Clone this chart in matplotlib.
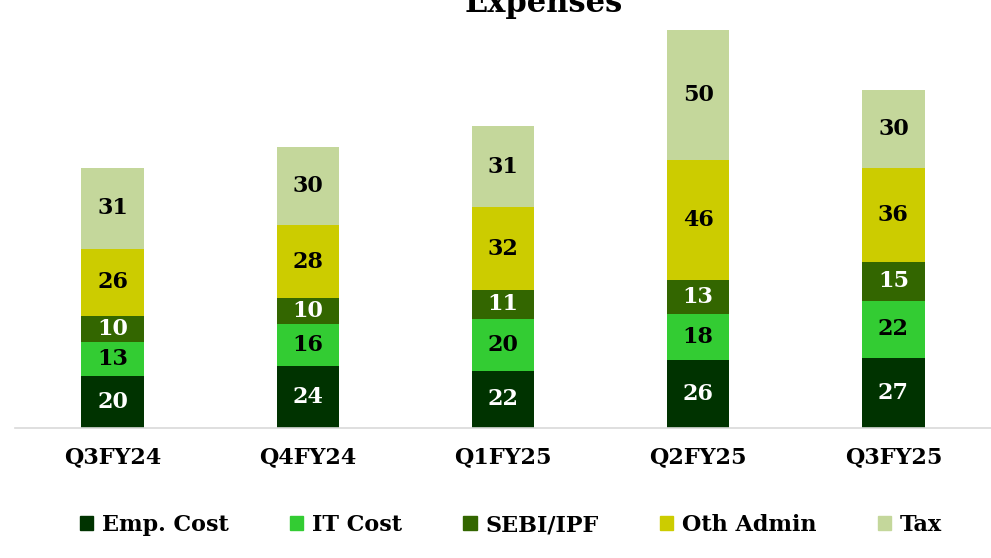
import matplotlib
matplotlib.use("Agg")
import matplotlib.pyplot as plt
from matplotlib.patches import Patch

quarters = ["Q3FY24", "Q4FY24", "Q1FY25", "Q2FY25", "Q3FY25"]
emp_cost = [20, 24, 22, 26, 27]
it_cost = [13, 16, 20, 18, 22]
sebi_ipf = [10, 10, 11, 13, 15]
oth_admin = [26, 28, 32, 46, 36]
tax = [31, 30, 31, 50, 30]

series = [
    ("Emp. Cost", emp_cost, "#003300", "white"),
    ("IT Cost", it_cost, "#33CC33", "black"),
    ("SEBI/IPF", sebi_ipf, "#336600", "white"),
    ("Oth Admin", oth_admin, "#CCCC00", "black"),
    ("Tax", tax, "#C4D79B", "black"),
]

plt.rcParams['font.family'] = ['DejaVu Serif']
plt.rcParams['font.weight'] = 'bold'

W, H = 991, 558
fig = plt.figure(figsize=(W / 100, H / 100), dpi=100)
# baseline at 428 px from top, 2.6 px per unit
ax = fig.add_axes([15 / W, (H - 428) / H, 976 / W, 160 * 2.6 / H])

x = list(range(len(quarters)))
bottom = [0] * len(quarters)
for name, vals, col, tcol in series:
    ax.bar(x, vals, 0.32, bottom=bottom, color=col, label=name)
    for i, v in enumerate(vals):
        ax.text(x[i], bottom[i] + v / 2, str(v), ha='center', va='center',
                color=tcol, fontsize=16, fontweight='bold')
    bottom = [b + v for b, v in zip(bottom, vals)]

ax.set_xlim(-0.5, 4.5)
ax.set_ylim(0, 160)
ax.set_yticks([])
ax.set_xticks(x)
ax.set_xticklabels(quarters, fontsize=16, fontweight='bold')
ax.tick_params(axis='x', length=0, pad=13)
for s in ['top', 'right', 'left']:
    ax.spines[s].set_visible(False)
ax.spines['bottom'].set_color('#D9D9D9')
ax.spines['bottom'].set_linewidth(1.2)

fig.text(544 / W, (H - 12) / H, "Expenses", ha='center', va='baseline',
         fontsize=22, fontweight='bold')

handles = [Patch(color=c, label=n) for n, _, c, _ in series]
fig.legend(handles=handles, loc='center', bbox_to_anchor=(511 / W, (H - 525) / H),
           ncol=5, frameon=False, fontsize=16, handlelength=0.6, handleheight=0.6,
           handletextpad=0.4, columnspacing=2.75)

fig.savefig("out.png", dpi=100)
